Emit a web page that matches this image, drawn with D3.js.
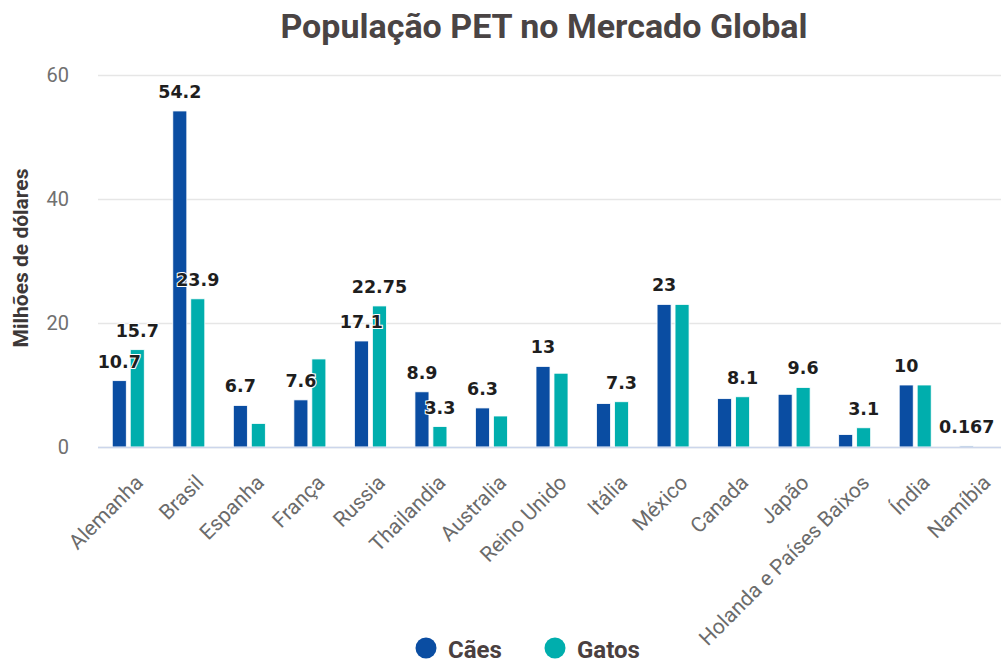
<!DOCTYPE html>
<html>
<head>
<meta charset="utf-8">
<script src="https://cdn.jsdelivr.net/npm/d3@7"></script>
<style>
  body { margin: 0; background: #fff; }
  svg { display: block; }
</style>
</head>
<body>
<div class="chart"></div>
<script>
// Data
var paises = ["Alemanha", "Brasil", "Espanha", "França", "Russia", "Thailandia", "Australia",
  "Reino Unido", "Itália", "México", "Canada", "Japão", "Holanda e Países Baixos", "Índia", "Namíbia"];
var caes = [10.7, 54.2, 6.7, 7.6, 17.1, 8.9, 6.3, 13, 7.0, 23, 7.8, 8.5, 2.0, 10, 0.167];
var gatos = [15.7, 23.9, 3.8, 14.2, 22.75, 3.3, 5.0, 11.9, 7.3, 23, 8.1, 9.6, 3.1, 10, 0];
// labels that are shown on the original (null = no label)
var caesLabels = [10.7, 54.2, 6.7, 7.6, 17.1, 8.9, 6.3, 13, null, 23, null, null, null, 10, 0.167];
var gatosLabels = [15.7, 23.9, null, null, 22.75, 3.3, null, null, 7.3, null, 8.1, 9.6, 3.1, null, null];
var yTicks = [0, 20, 40, 60];
var series = [
  { key: "caes", name: "Cães", values: caes, labels: caesLabels, color: "#0a4da2" },
  { key: "gatos", name: "Gatos", values: gatos, labels: gatosLabels, color: "#00aead" }
];

// Setup chart
var svgWidth = 1001;
var svgHeight = 664;
var plotLeft = 98, plotRight = 1006, plotTop = 75, plotBottom = 447;

var svg = d3.select(".chart")
  .append("svg")
  .attr("width", svgWidth)
  .attr("height", svgHeight);

var x0 = d3.scaleBand()
  .domain(paises)
  .range([plotLeft, plotRight]);

var x1 = d3.scaleBand()
  .domain(series.map(function(s) { return s.key; }))
  .range([0, 32])
  .paddingInner(0.22);

var y = d3.scaleLinear()
  .domain([0, 60])
  .range([plotBottom, plotTop]);

// Title
svg.append("text")
  .attr("x", 544)
  .attr("y", 38)
  .attr("text-anchor", "middle")
  .attr("font-family", "Roboto")
  .attr("font-weight", "bold")
  .attr("font-size", "34px")
  .attr("fill", "#4a4444")
  .text("População PET no Mercado Global");

// Gridlines + y labels
var leftAxis = d3.axisLeft(y).tickValues(yTicks).tickSize(-(svgWidth - plotLeft)).tickPadding(29);
var gy = svg.append("g")
  .attr("transform", "translate(" + plotLeft + ",0)")
  .call(leftAxis);
gy.select(".domain").remove();
gy.selectAll(".tick line").attr("stroke", "#e6e6e6").attr("stroke-width", 1.5);
gy.selectAll(".tick text")
  .attr("font-family", "Roboto")
  .attr("font-size", "20px")
  .attr("fill", "#707070");

// Y axis title
svg.append("text")
  .attr("transform", "translate(28,258) rotate(-90)")
  .attr("text-anchor", "middle")
  .attr("font-family", "Roboto")
  .attr("font-weight", "bold")
  .attr("font-size", "21px")
  .attr("fill", "#3d3838")
  .text("Milhões de dólares");

// Bars
var groups = svg.selectAll(".grupo")
  .data(paises)
  .enter().append("g")
  .attr("class", "grupo")
  .attr("transform", function(d) {
    return "translate(" + (x0(d) + x0.bandwidth() / 2 - 16) + ",0)";
  });

series.forEach(function(s) {
  groups.append("rect")
    .attr("x", x1(s.key))
    .attr("width", x1.bandwidth())
    .attr("y", function(d, i) { return y(s.values[i]); })
    .attr("height", function(d, i) { return plotBottom - y(s.values[i]); })
    .attr("fill", s.color)
    .attr("stroke", "#ffffff")
    .attr("stroke-width", 0.8);
});

// Bottom axis line
svg.append("line")
  .attr("x1", plotLeft).attr("x2", svgWidth)
  .attr("y1", plotBottom + 0.5).attr("y2", plotBottom + 0.5)
  .attr("stroke", "#ccd6eb")
  .attr("stroke-width", 1.5);

// Data labels
series.forEach(function(s) {
  groups.append("text")
    .attr("x", x1(s.key) + x1.bandwidth() / 2)
    .attr("y", function(d, i) { return y(s.values[i]) - 13; })
    .attr("text-anchor", "middle")
    .attr("font-family", "DejaVu Sans")
    .attr("font-weight", "bold")
    .attr("font-size", "17.5px")
    .attr("fill", "#1e1e1e")
    .attr("stroke", "#ffffff")
    .attr("stroke-width", 2)
    .attr("paint-order", "stroke")
    .text(function(d, i) { return s.labels[i] == null ? "" : s.labels[i]; });
});

// X labels
svg.append("g").selectAll("text")
  .data(paises)
  .enter().append("text")
  .attr("transform", function(d) {
    return "translate(" + (x0(d) + x0.bandwidth() / 2 + 16) + ",484) rotate(-45)";
  })
  .attr("text-anchor", "end")
  .attr("font-family", "Roboto")
  .attr("font-size", "21px")
  .attr("fill", "#6b6b6b")
  .text(function(d) { return d; });

// Legend
var legend = svg.append("g");
var legendX = [426, 555];
series.forEach(function(s, i) {
  legend.append("circle")
    .attr("cx", legendX[i])
    .attr("cy", 648)
    .attr("r", 10.5)
    .attr("fill", s.color);
  legend.append("text")
    .attr("x", legendX[i] + 22)
    .attr("y", 658)
    .attr("font-family", "Roboto")
    .attr("font-weight", "bold")
    .attr("font-size", "24px")
    .attr("fill", "#4a4040")
    .text(s.name);
});
</script>
</body>
</html>
